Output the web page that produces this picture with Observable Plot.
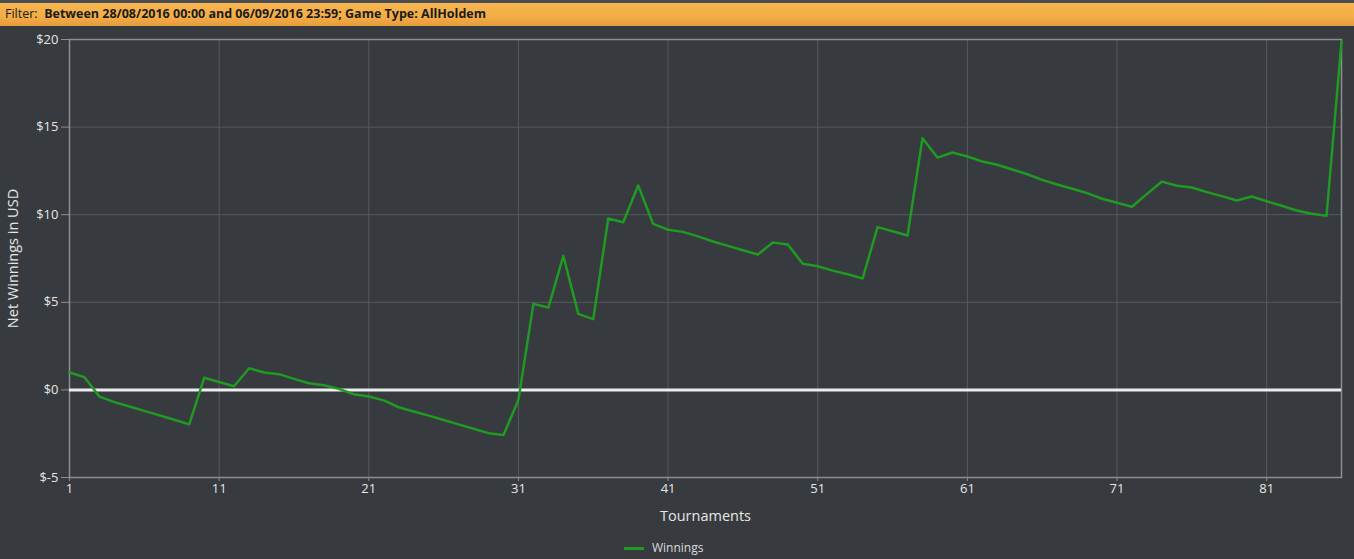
<!DOCTYPE html>
<html>
<head>
<meta charset="utf-8">
<script src="https://cdn.jsdelivr.net/npm/d3@7"></script>
<script src="https://cdn.jsdelivr.net/npm/@observablehq/plot@0.6"></script>
<style>
  html, body { margin: 0; padding: 0; background: #373a3e; width: 1354px; height: 559px; overflow: hidden; font-family: "Open Sans", sans-serif; }
  #header { height: 23px; border-top: 3px solid #4a4d52; background: linear-gradient(#f6b550, #f3ad45 60%, #e49c3c); font-size: 12.5px; line-height: 22px; color: #1a1a1a; padding-left: 5px; box-sizing: content-box; }
  #header b { font-weight: 700; }
  #chart { position: relative; }
  #legend { position: absolute; left: 624px; top: 540px; font-size: 12px; line-height: 16px; color: #dcdcdc; display: flex; align-items: center; }
  #legend .sw { width: 20px; height: 3px; background: #1f9a22; margin-right: 8px; }
</style>
</head>
<body>
<div id="header">Filter: &nbsp;<b>Between 28/08/2016 00:00 and 06/09/2016 23:59; Game Type: AllHoldem</b></div>
<div id="chart"></div>
<div id="legend"><div class="sw"></div><span>Winnings</span></div>
<script>
const tournaments = d3.range(1, 87);
const winnings = [
  1.00, 0.72, -0.38, -0.70, -0.95, -1.20, -1.45, -1.70, -1.97, 0.69,
  0.45, 0.21, 1.24, 0.99, 0.90, 0.63, 0.38, 0.27, 0.06, -0.25,
  -0.38, -0.60, -0.99, -1.23, -1.47, -1.72, -1.97, -2.22, -2.47, -2.58,
  -0.57, 4.91, 4.70, 7.65, 4.34, 4.04, 9.78, 9.57, 11.67, 9.48,
  9.14, 9.02, 8.76, 8.47, 8.22, 7.97, 7.73, 8.41, 8.30, 7.20,
  7.06, 6.81, 6.60, 6.36, 9.29, 9.06, 8.81, 14.37, 13.26, 13.55,
  13.32, 13.04, 12.85, 12.58, 12.31, 11.99, 11.72, 11.48, 11.23, 10.91,
  10.68, 10.45, 11.19, 11.89, 11.65, 11.55, 11.29, 11.06, 10.81, 11.04,
  10.77, 10.51, 10.24, 10.05, 9.94, 19.90
];
const xTicks = [1, 11, 21, 31, 41, 51, 61, 71, 81];
const yTicks = [-5, 0, 5, 10, 15, 20];
const seriesName = "Winnings";

const data = tournaments.map((t, i) => ({t, v: winnings[i], s: seriesName}));

const plot = Plot.plot({
  width: 1354,
  height: 533,
  marginLeft: 69,
  marginRight: 13,
  marginTop: 13,
  marginBottom: 82,
  style: {background: "transparent", fontFamily: "Open Sans, sans-serif", fontSize: "13px", color: "#e6e6e6"},
  x: {domain: [1, 86]},
  y: {domain: [-5, 20]},
  marks: [
    Plot.gridX(xTicks, {stroke: "#56595d", strokeOpacity: 1}),
    Plot.gridY(yTicks, {stroke: "#56595d", strokeOpacity: 1}),
    Plot.frame({stroke: "#8c8e90", strokeWidth: 1.5}),
    Plot.ruleY([0], {stroke: "#ececec", strokeWidth: 3}),
    Plot.line(data, {x: "t", y: "v", stroke: "#1f9a22", strokeWidth: 2.5}),
    Plot.axisX({ticks: xTicks, tickSize: 4, tickPadding: 2, stroke: "#8c8e90", fill: "#e6e6e6", fontSize: 13, label: null}),
    Plot.axisX({ticks: [], label: "Tournaments", labelAnchor: "center", labelArrow: "none", labelOffset: 43, fontSize: 14.5, fill: "#e6e6e6"}),
    Plot.axisY({ticks: yTicks, tickSize: 8, tickPadding: 3, stroke: "#8c8e90", fill: "#e6e6e6", fontSize: 13, label: null,
      tickFormat: d => "$" + d}),
    Plot.axisY({ticks: [], label: "Net Winnings in USD", labelAnchor: "center", labelArrow: "none", labelOffset: 62, fontSize: 14.5, fill: "#e6e6e6"})
  ]
});
document.getElementById("chart").appendChild(plot);
</script>
</body>
</html>
